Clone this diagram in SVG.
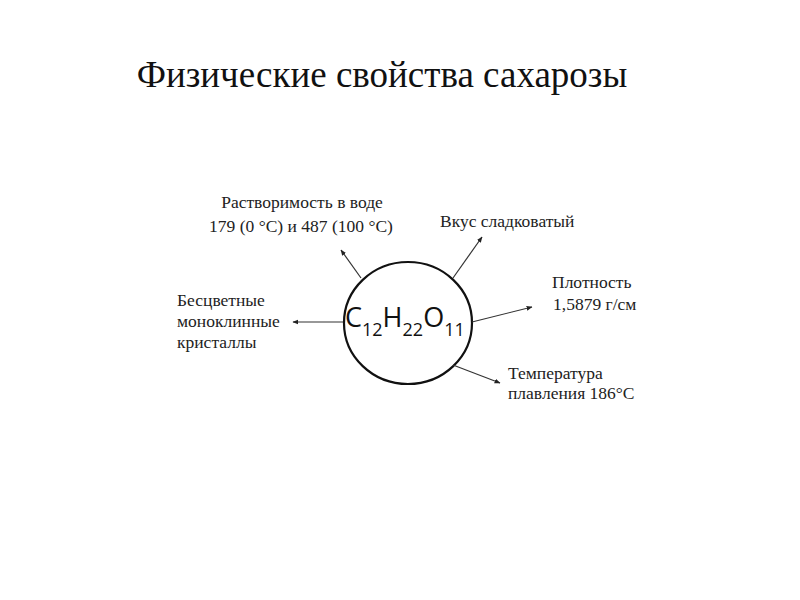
<svg xmlns="http://www.w3.org/2000/svg" width="800" height="600" viewBox="0 0 800 600">
<defs>
<style>
.t{font-family:"Liberation Serif","Times New Roman",serif;font-size:17.5px;fill:#222}
.title{font-family:"Liberation Serif","Times New Roman",serif;font-size:37px;fill:#111}
.f{font-family:"Open Sans","Liberation Sans",sans-serif;fill:#111}
.c{fill:none;stroke:#333;stroke-width:1.2}
</style>
<marker id="ah" viewBox="0 0 10 10" refX="9" refY="5" markerWidth="6" markerHeight="6" orient="auto" markerUnits="userSpaceOnUse">
<path d="M0,1 L10,5 L0,9 Z" fill="#222"/>
</marker>
</defs>
<rect width="800" height="600" fill="#fff"/>
<text class="title" x="382" y="87" text-anchor="middle">Физические свойства сахарозы</text>
<g id="center">
<ellipse cx="408" cy="323" rx="64" ry="61" fill="none" stroke="#111" stroke-width="2.2"/>
<text class="f" x="345" y="327" font-size="27">C<tspan font-size="18" dy="9">12</tspan><tspan dy="-9">H</tspan><tspan font-size="18" dy="9">22</tspan><tspan dy="-9">O</tspan><tspan font-size="18" dy="9">11</tspan></text>
</g>
<g id="connectors">
<line class="c" x1="361" y1="278" x2="341" y2="250" marker-end="url(#ah)"/>
<line class="c" x1="453" y1="278" x2="482" y2="237" marker-end="url(#ah)"/>
<line class="c" x1="343" y1="322" x2="293" y2="322" marker-end="url(#ah)"/>
<line class="c" x1="472" y1="322" x2="532" y2="307" marker-end="url(#ah)"/>
<line class="c" x1="453" y1="365" x2="500" y2="383" marker-end="url(#ah)"/>
</g>
<g id="solubility">
<text class="t" x="302" y="208" text-anchor="middle">Растворимость в воде</text>
<text class="t" x="301" y="232" text-anchor="middle">179 (0 °C) и 487 (100 °C)</text>
</g>
<g id="taste">
<text class="t" x="440" y="227">Вкус сладковатый</text>
</g>
<g id="crystals">
<text class="t" x="177" y="306">Бесцветные</text>
<text class="t" x="177" y="327">моноклинные</text>
<text class="t" x="177" y="348">кристаллы</text>
</g>
<g id="density">
<text class="t" x="552" y="288">Плотность</text>
<text class="t" x="553" y="310">1,5879 г/см</text>
</g>
<g id="melting">
<text class="t" x="508" y="379">Температура</text>
<text class="t" x="508" y="399">плавления 186°C</text>
</g>
</svg>
